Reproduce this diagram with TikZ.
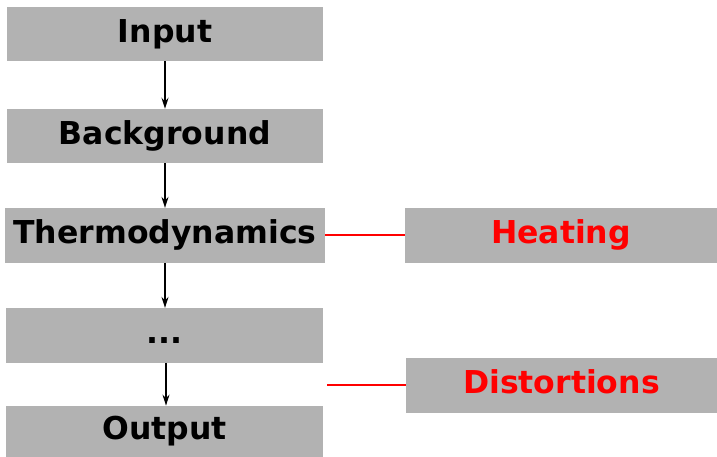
\documentclass[tikz,border=0pt]{standalone}
\usepackage{fontspec}
\setmainfont{DejaVu Sans}
\usetikzlibrary{arrows.meta}
\begin{document}
\begin{tikzpicture}[x=1pt,y=-1pt,
  box/.style={fill=black!30, draw=none, inner sep=0pt, text height=23pt, text depth=6pt, font=\fontsize{31.5}{36}\selectfont\bfseries},
  flow/.style={draw=black, line width=1.6pt, -{Stealth[length=11pt,width=7pt]}},
  link/.style={draw=red, line width=2pt}]
\useasboundingbox (0,0) rectangle (717,457);
\node[box, minimum width=316pt, minimum height=54pt] (in) at (165,34) {Input};
\node[box, minimum width=316pt, minimum height=54pt] (bg) at (165,136) {Background};
\node[box, minimum width=320pt, minimum height=54.5pt] (th) at (165,235.3) {Thermodynamics};
\node[box, minimum width=317pt, minimum height=54.5pt] (dots) at (164.5,335.3) {...};
\node[box, minimum width=317pt, minimum height=51pt] (out) at (164.5,431.3) {Output};
\node[box, text=red, minimum width=312pt, minimum height=54.5pt] (heat) at (561,235.3) {Heating};
\node[box, text=red, minimum width=311pt, minimum height=54.5pt] (dist) at (561.5,385.3) {Distortions};
\coordinate (dl) at (327,385.3);
\draw[flow] (in.south -| 165,0) -- (bg.north -| 165,0);
\draw[flow] (bg.south -| 165,0) -- (th.north -| 165,0);
\draw[flow] (th.south -| 165,0) -- (dots.north -| 165,0);
\draw[flow] (dots.south -| 166,0) -- (out.north -| 166,0);
\draw[link] (th.east) -- (heat.west);
\draw[link] (dl) -- (dist.west);
\end{tikzpicture}
\end{document}
